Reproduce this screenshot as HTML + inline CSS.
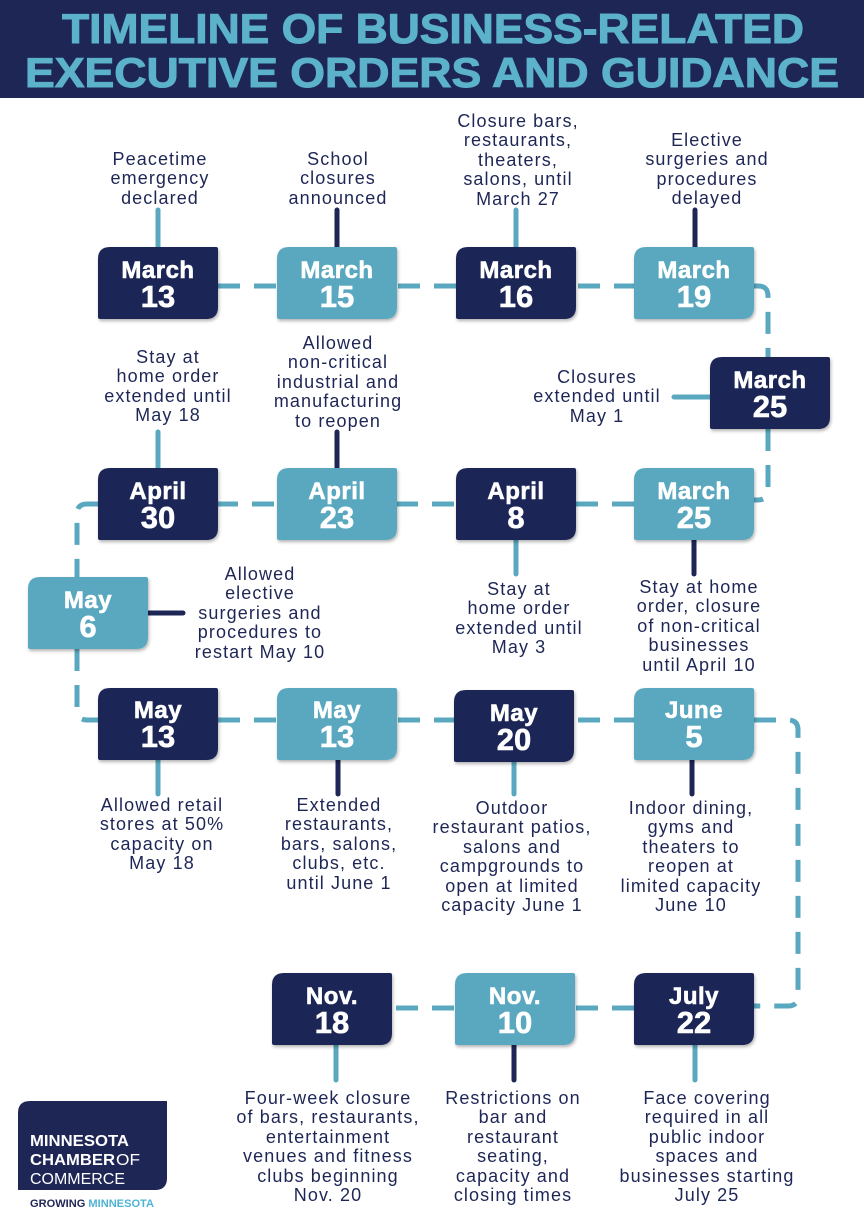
<!DOCTYPE html>
<html><head><meta charset="utf-8"><style>
body{margin:0;width:864px;height:1225px;background:#fff;position:relative;overflow:hidden;font-family:"Liberation Sans",sans-serif}
.l{position:absolute;text-align:center;color:#1e2656;font-size:18px;line-height:19.4px;white-space:nowrap;transform:translateX(-50%);letter-spacing:1.1px}
</style></head><body>
<svg width="864" height="1225" style="position:absolute;left:0;top:0">
<defs>
<filter id="s" x="-10%" y="-10%" width="130%" height="130%"><feDropShadow dx="1" dy="2" stdDeviation="1.5" flood-opacity="0.3"/></filter>
<path id="bx" d="M12 0H118Q120 0 120 2V60Q120 72 108 72H2Q0 72 0 70V12Q0 0 12 0Z"/>
</defs>
<rect x="0" y="0" width="864" height="98" fill="#1e2656"/>
<g font-family="Liberation Sans" font-weight="bold" fill="#5bb2ca" font-size="42" text-anchor="middle" stroke="#5bb2ca" stroke-width="1">
<text x="433" y="43" textLength="742" lengthAdjust="spacingAndGlyphs">TIMELINE OF BUSINESS-RELATED</text>
<text x="432" y="87" textLength="814" lengthAdjust="spacingAndGlyphs">EXECUTIVE ORDERS AND GUIDANCE</text>
</g>
<g fill="none" stroke="#5aa8bf" stroke-width="5" stroke-dasharray="22 14">
<path d="M218 286H634"/>
<path d="M754 286H758Q768 286 768 296V357"/>
<path d="M768 429V490Q768 500 758 500H754"/>
<path d="M634 504H218"/>
<path d="M98 504H87Q77 504 77 514V577"/>
<path d="M77 649V710Q77 720 87 720H98"/>
<path d="M218 720H634"/>
<path d="M754 720H788Q798 720 798 730V996Q798 1006 788 1006H754"/>
<path d="M634 1008H392"/>
</g>
<g stroke-width="5" stroke-linecap="round">
<path d="M158 210V247" stroke="#5aa8bf"/>
<path d="M337 210V247" stroke="#1e2656"/>
<path d="M516 210V247" stroke="#5aa8bf"/>
<path d="M695 210V247" stroke="#1e2656"/>
<path d="M674 397H710" stroke="#5aa8bf"/>
<path d="M158 432V468" stroke="#5aa8bf"/>
<path d="M337 432V468" stroke="#1e2656"/>
<path d="M516 540V574" stroke="#5aa8bf"/>
<path d="M694 540V574" stroke="#1e2656"/>
<path d="M148 613H183" stroke="#1e2656"/>
<path d="M158 760V794" stroke="#5aa8bf"/>
<path d="M338 760V794" stroke="#1e2656"/>
<path d="M514 760V794" stroke="#5aa8bf"/>
<path d="M692 760V794" stroke="#1e2656"/>
<path d="M336 1045V1080" stroke="#5aa8bf"/>
<path d="M514 1045V1080" stroke="#1e2656"/>
<path d="M695 1045V1080" stroke="#5aa8bf"/>
</g>
<g filter="url(#s)">
<use href="#bx" x="98" y="247" fill="#1e2656"/>
<use href="#bx" x="277" y="247" fill="#5aa8bf"/>
<use href="#bx" x="456" y="247" fill="#1e2656"/>
<use href="#bx" x="634" y="247" fill="#5aa8bf"/>
<use href="#bx" x="710" y="357" fill="#1e2656"/>
<use href="#bx" x="98" y="468" fill="#1e2656"/>
<use href="#bx" x="277" y="468" fill="#5aa8bf"/>
<use href="#bx" x="456" y="468" fill="#1e2656"/>
<use href="#bx" x="634" y="468" fill="#5aa8bf"/>
<use href="#bx" x="28" y="577" fill="#5aa8bf"/>
<use href="#bx" x="98" y="688" fill="#1e2656"/>
<use href="#bx" x="277" y="688" fill="#5aa8bf"/>
<use href="#bx" x="454" y="690" fill="#1e2656"/>
<use href="#bx" x="634" y="688" fill="#5aa8bf"/>
<use href="#bx" x="272" y="973" fill="#1e2656"/>
<use href="#bx" x="455" y="973" fill="#5aa8bf"/>
<use href="#bx" x="634" y="973" fill="#1e2656"/>
</g>
<g font-family="Liberation Sans" font-weight="bold" fill="#fff" text-anchor="middle" stroke="#fff" stroke-width="0.6">
<g font-size="24" letter-spacing="0.5">
<text x="158" y="278">March</text><text x="337" y="278">March</text><text x="516" y="278">March</text><text x="694" y="278">March</text>
<text x="770" y="388">March</text>
<text x="158" y="499">April</text><text x="337" y="499">April</text><text x="516" y="499">April</text><text x="694" y="499">March</text>
<text x="88" y="608">May</text>
<text x="158" y="718">May</text><text x="337" y="718">May</text><text x="514" y="721">May</text><text x="694" y="718">June</text>
<text x="332" y="1004">Nov.</text><text x="515" y="1004">Nov.</text><text x="694" y="1004">July</text>
</g>
<g font-size="31">
<text x="158" y="307">13</text><text x="337" y="307">15</text><text x="516" y="307">16</text><text x="694" y="307">19</text>
<text x="770" y="417">25</text>
<text x="158" y="528">30</text><text x="337" y="528">23</text><text x="516" y="528">8</text><text x="694" y="528">25</text>
<text x="88" y="637">6</text>
<text x="158" y="747">13</text><text x="337" y="747">13</text><text x="514" y="750">20</text><text x="694" y="747">5</text>
<text x="332" y="1033">18</text><text x="515" y="1033">10</text><text x="694" y="1033">22</text>
</g>
</g>
<path d="M30 1101H167V1178Q167 1190 155 1190H18V1113Q18 1101 30 1101Z" fill="#1e2656"/>
<g font-family="Liberation Sans" fill="#fff" font-size="15.5">
<text x="30" y="1146" font-weight="bold" textLength="99" lengthAdjust="spacingAndGlyphs">MINNESOTA</text>
<text x="30" y="1165" font-weight="bold" textLength="85" lengthAdjust="spacingAndGlyphs">CHAMBER</text>
<text x="116" y="1165" textLength="24" lengthAdjust="spacingAndGlyphs">OF</text>
<text x="30" y="1184" textLength="95" lengthAdjust="spacingAndGlyphs">COMMERCE</text>
</g>
<text x="30" y="1207" font-family="Liberation Sans" font-weight="bold" font-size="11" fill="#1e2656" textLength="124" lengthAdjust="spacingAndGlyphs">GROWING <tspan fill="#4fb3d3">MINNESOTA</tspan></text>
</svg>
<div class="l" style="left:160px;top:150px">Peacetime<br>emergency<br>declared</div>
<div class="l" style="left:338px;top:150px">School<br>closures<br>announced</div>
<div class="l" style="left:518px;top:112px">Closure bars,<br>restaurants,<br>theaters,<br>salons, until<br>March 27</div>
<div class="l" style="left:707px;top:131px">Elective<br>surgeries and<br>procedures<br>delayed</div>
<div class="l" style="left:597px;top:368px">Closures<br>extended until<br>May 1</div>
<div class="l" style="left:168px;top:348px">Stay at<br>home order<br>extended until<br>May 18</div>
<div class="l" style="left:338px;top:334px">Allowed<br>non-critical<br>industrial and<br>manufacturing<br>to reopen</div>
<div class="l" style="left:519px;top:580px">Stay at<br>home order<br>extended until<br>May 3</div>
<div class="l" style="left:699px;top:578px">Stay at home<br>order, closure<br>of non-critical<br>businesses<br>until April 10</div>
<div class="l" style="left:260px;top:565px">Allowed<br>elective<br>surgeries and<br>procedures to<br>restart May 10</div>
<div class="l" style="left:162px;top:796px">Allowed retail<br>stores at 50%<br>capacity on<br>May 18</div>
<div class="l" style="left:339px;top:796px">Extended<br>restaurants,<br>bars, salons,<br>clubs, etc.<br>until June 1</div>
<div class="l" style="left:512px;top:799px">Outdoor<br>restaurant patios,<br>salons and<br>campgrounds to<br>open at limited<br>capacity June 1</div>
<div class="l" style="left:691px;top:799px">Indoor dining,<br>gyms and<br>theaters to<br>reopen at<br>limited capacity<br>June 10</div>
<div class="l" style="left:328px;top:1089px">Four-week closure<br>of bars, restaurants,<br>entertainment<br>venues and fitness<br>clubs beginning<br>Nov. 20</div>
<div class="l" style="left:513px;top:1089px">Restrictions on<br>bar and<br>restaurant<br>seating,<br>capacity and<br>closing times</div>
<div class="l" style="left:707px;top:1089px">Face covering<br>required in all<br>public indoor<br>spaces and<br>businesses starting<br>July 25</div>
</body></html>
